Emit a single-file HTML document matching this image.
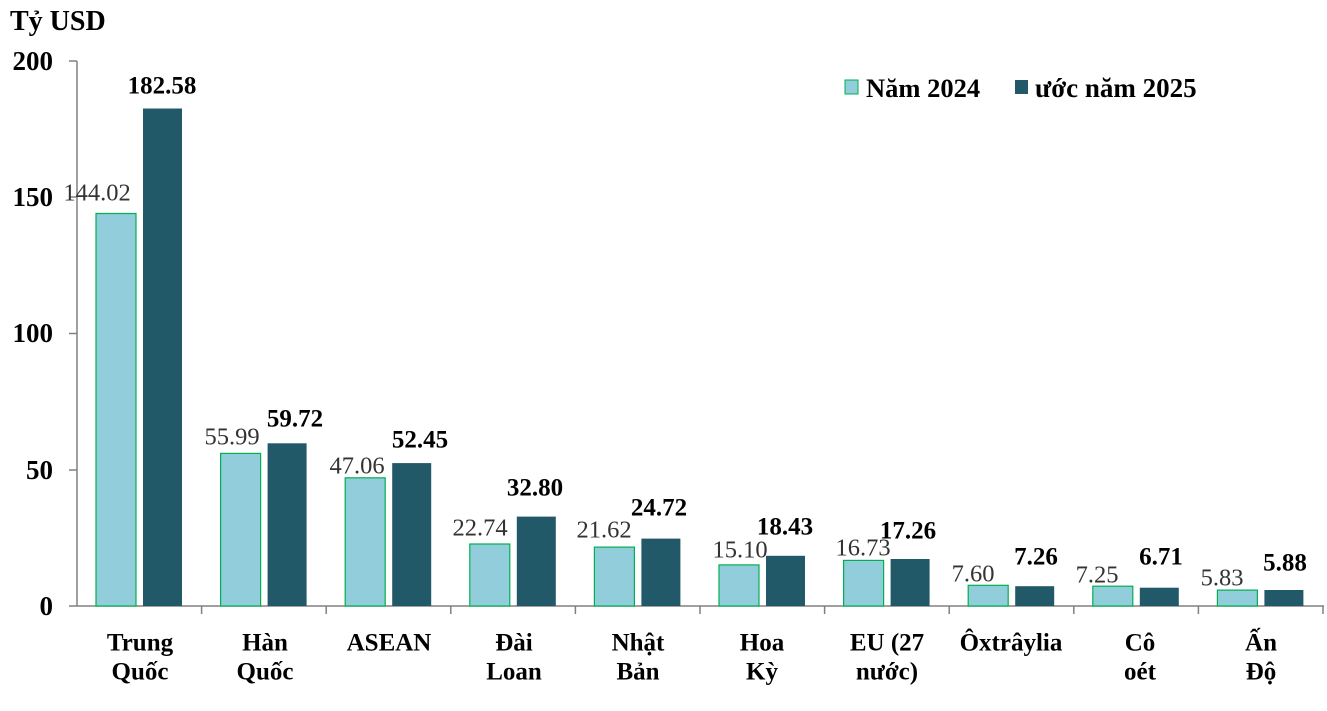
<!DOCTYPE html>
<html><head><meta charset="utf-8"><style>body{margin:0;background:#fff}svg{display:block}</style></head>
<body>
<svg width="1327" height="711" xmlns="http://www.w3.org/2000/svg" font-family="'Liberation Serif', serif">
<rect width="1327" height="711" fill="#fff"/>
<text x="10" y="30" font-size="28" font-weight="bold">Tỷ USD</text>
<g font-size="27" font-weight="bold" text-anchor="end" dominant-baseline="central">
<text x="53" y="61">200</text><text x="53" y="197">150</text><text x="53" y="333">100</text><text x="53" y="470">50</text><text x="53" y="606">0</text>
</g>
<g stroke="#808080" stroke-width="1.5" fill="none">
<line x1="77" y1="61" x2="77" y2="606"/>
<line x1="77" y1="606" x2="1324" y2="606"/>
<line x1="69" y1="61" x2="77" y2="61"/><line x1="69" y1="197" x2="77" y2="197"/><line x1="69" y1="333.5" x2="77" y2="333.5"/><line x1="69" y1="470" x2="77" y2="470"/><line x1="69" y1="606" x2="77" y2="606"/>
<line x1="201.6" y1="606" x2="201.6" y2="614"/><line x1="326.2" y1="606" x2="326.2" y2="614"/><line x1="450.8" y1="606" x2="450.8" y2="614"/><line x1="575.4" y1="606" x2="575.4" y2="614"/><line x1="700" y1="606" x2="700" y2="614"/><line x1="824.6" y1="606" x2="824.6" y2="614"/><line x1="949.2" y1="606" x2="949.2" y2="614"/><line x1="1073.8" y1="606" x2="1073.8" y2="614"/><line x1="1198.4" y1="606" x2="1198.4" y2="614"/><line x1="1323" y1="606" x2="1323" y2="614"/>
</g>
<g fill="#92CDDC" stroke="#00B050" stroke-width="1.2">
<rect x="96" y="213.5" width="40" height="392.5"/>
<rect x="220.6" y="453.4" width="40" height="152.6"/>
<rect x="345.2" y="477.8" width="40" height="128.2"/>
<rect x="469.8" y="544" width="40" height="62"/>
<rect x="594.4" y="547.1" width="40" height="58.9"/>
<rect x="719" y="564.9" width="40" height="41.1"/>
<rect x="843.6" y="560.4" width="40" height="45.6"/>
<rect x="968.2" y="585.3" width="40" height="20.7"/>
<rect x="1092.8" y="586.2" width="40" height="19.8"/>
<rect x="1217.4" y="590.1" width="40" height="15.9"/>
</g>
<g fill="#215968">
<rect x="143" y="108.5" width="39" height="497.5"/>
<rect x="267.6" y="443.3" width="39" height="162.7"/>
<rect x="392.2" y="463.1" width="39" height="142.9"/>
<rect x="516.8" y="516.6" width="39" height="89.4"/>
<rect x="641.4" y="538.6" width="39" height="67.4"/>
<rect x="766" y="555.8" width="39" height="50.2"/>
<rect x="890.6" y="559" width="39" height="47"/>
<rect x="1015.2" y="586.2" width="39" height="19.8"/>
<rect x="1139.8" y="587.7" width="39" height="18.3"/>
<rect x="1264.4" y="590" width="39" height="16"/>
</g>
<g font-size="24.5" fill="#333" text-anchor="middle" dominant-baseline="central">
<text x="97" y="193">144.02</text><text x="232" y="437">55.99</text><text x="357" y="466">47.06</text><text x="480" y="528">22.74</text><text x="604" y="530">21.62</text><text x="740" y="550">15.10</text><text x="863" y="548">16.73</text><text x="973" y="574">7.60</text><text x="1097" y="575">7.25</text><text x="1222" y="578">5.83</text>
</g>
<g font-size="25" font-weight="bold" text-anchor="middle" dominant-baseline="central">
<text x="162" y="86">182.58</text><text x="295" y="419">59.72</text><text x="420" y="440">52.45</text><text x="535" y="488">32.80</text><text x="659" y="508">24.72</text><text x="785" y="527">18.43</text><text x="908" y="531">17.26</text><text x="1036" y="557">7.26</text><text x="1161" y="557">6.71</text><text x="1285" y="563">5.88</text>
</g>
<g font-size="25" font-weight="bold" text-anchor="middle" dominant-baseline="central">
<text x="140" y="643">Trung</text><text x="140" y="672">Quốc</text>
<text x="265" y="643">Hàn</text><text x="265" y="672">Quốc</text>
<text x="389" y="643">ASEAN</text>
<text x="514" y="643">Đài</text><text x="514" y="672">Loan</text>
<text x="638" y="643">Nhật</text><text x="638" y="672">Bản</text>
<text x="762" y="643">Hoa</text><text x="762" y="672">Kỳ</text>
<text x="887" y="643">EU (27</text><text x="887" y="672">nước)</text>
<text x="1011" y="643">Ôxtrâylia</text>
<text x="1140" y="643">Cô</text><text x="1140" y="672">oét</text>
<text x="1261" y="643">Ấn</text><text x="1261" y="672">Độ</text>
</g>
<rect x="845" y="80" width="13" height="14" fill="#92CDDC" stroke="#00B050" stroke-width="1"/>
<text x="866" y="88" font-size="26.5" font-weight="bold" dominant-baseline="central">Năm 2024</text>
<rect x="1015" y="80" width="13" height="14" fill="#215968"/>
<text x="1035" y="88" font-size="27" font-weight="bold" dominant-baseline="central">ước năm 2025</text>
</svg>
</body></html>
